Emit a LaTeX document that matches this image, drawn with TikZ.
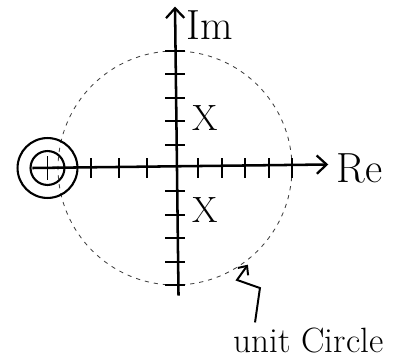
\documentclass[tikz,border=0pt]{standalone}
\usepackage{fontspec}
\usetikzlibrary{arrows.meta}
\begin{document}
\begin{tikzpicture}[scale=2.925,
  axis/.style={line width=1.8pt,-{Straight Barb[length=7pt,width=13pt,line width=1.6pt]}},
  axtick/.style={line width=1.4pt},
  unitc/.style={line width=0.6pt,dash pattern=on 3pt off 3.5pt,black!75},
  ring/.style={line width=1.5pt},
  lbl/.style={inner sep=0pt}]
\useasboundingbox (-1.496,-1.641) rectangle (2.0,1.436);
\draw[unitc](0,0)circle(1);
% axes
\coordinate (xl) at (-1.22,0);\coordinate (xr) at (1.31,0.03);
\coordinate (yb) at (0.03,-1.09);\coordinate (yt) at (0,1.38);
\draw[axis](xl)--(xr);
\draw[axis](yb)--(yt);
\foreach\x in{-0.72,-0.48,-0.24,0.2,0.4,0.6,0.8,1}{\draw[axtick](\x,-0.085)--(\x,0.085);}
\foreach\y in{-1,-0.8,-0.6,-0.4,-0.2,0.2,0.4,0.6,0.8,1}{\draw[axtick](-0.085,\y)--(0.085,\y);}
% zero
\draw[ring](-1.09,0)circle(0.145);\draw[ring](-1.09,0)circle(0.256);
\draw[axtick](-1.09,-0.1)--(-1.09,0.1);
% poles
\node[font=\fontsize{26pt}{30pt}\selectfont](p1)at(0.256,0.427){X};
\node[font=\fontsize{26pt}{30pt}\selectfont](p2)at(0.256,-0.36){X};
\node[lbl,font=\fontsize{30pt}{34pt}\selectfont,anchor=west](im)at(0.10,1.22){Im};
\node[lbl,font=\fontsize{30pt}{34pt}\selectfont,anchor=west](re)at(1.38,0){Re};
\node[lbl,font=\fontsize{25pt}{30pt}\selectfont,anchor=base west](uc)at(0.50,-1.58){unit Circle};
\coordinate (tail) at (0.684,-1.32);\coordinate (tip) at (-53:1.035);
\draw[line width=1.4pt,-{Straight Barb[length=5pt,width=9pt]}](tail)--(0.726,-1.026)--(0.53,-0.957)--(tip);
\end{tikzpicture}
\end{document}
